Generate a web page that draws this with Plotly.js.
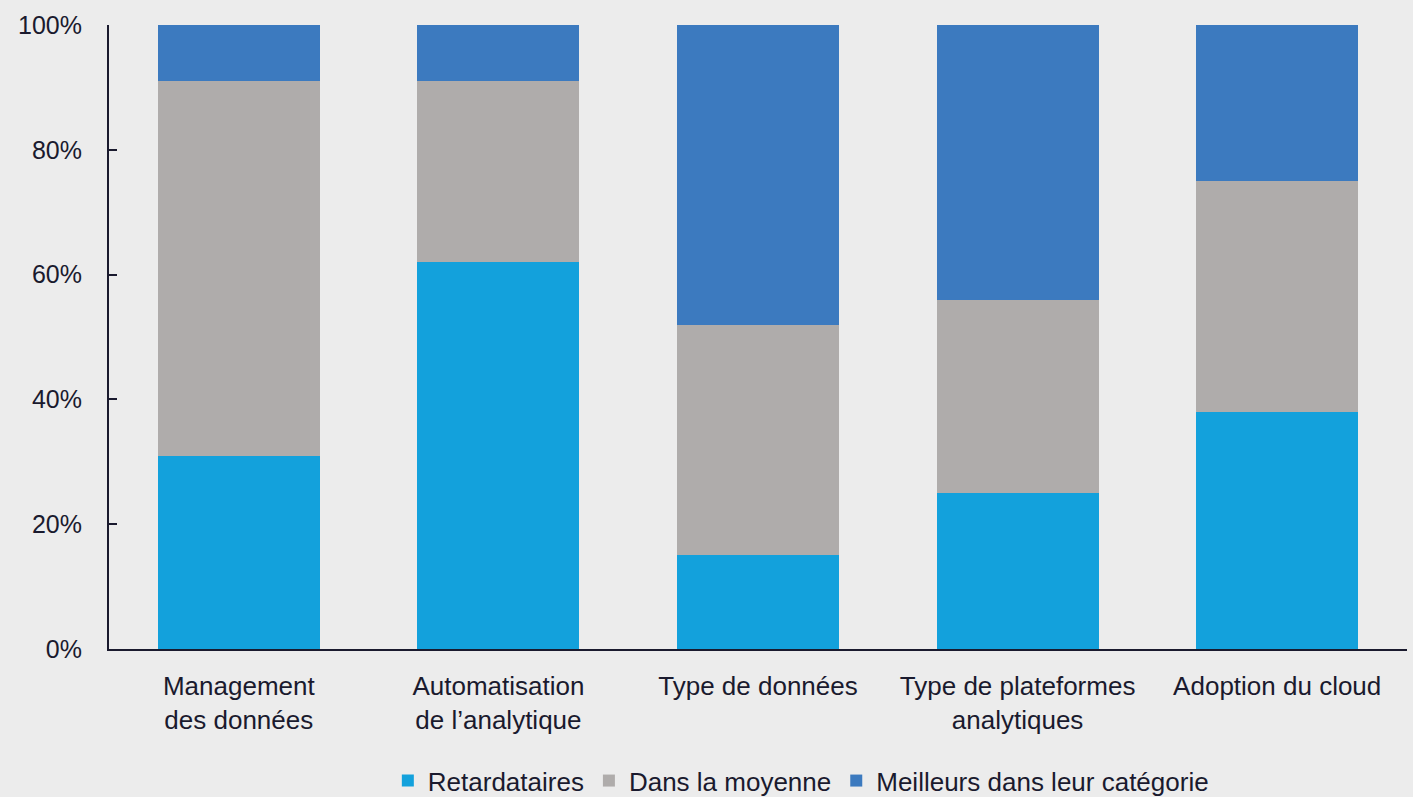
<!DOCTYPE html>
<html>
<head>
<meta charset="utf-8">
<script src="https://cdn.plot.ly/plotly-3.0.1.min.js"></script>
<style>
html,body{margin:0;padding:0;background:#ECECEC;}
#chart{width:1413px;height:797px;}
</style>
</head>
<body>
<div id="chart"></div>
<script>
const categories = ["Management<br>des données", "Automatisation<br>de l’analytique", "Type de données", "Type de plateformes<br>analytiques", "Adoption du cloud"];
const seriesNames = ["Retardataires", "Dans la moyenne", "Meilleurs dans leur catégorie"];
const retardataires = [31, 62, 15, 25, 38];
const moyenne = [60, 29, 37, 31, 37];
const meilleurs = [9, 9, 48, 44, 25];
const yTickVals = [0, 20, 40, 60, 80, 100];
const yTickText = ["0%", "20%", "40%", "60%", "80%", "100%"];

const FONT = "'Liberation Sans', Arial, sans-serif";
const colors = ["#13A1DC", "#AFACAB", "#3C7ABF"];
const values = [retardataires, moyenne, meilleurs];

const traces = values.map((v, i) => ({
  type: "bar",
  name: seriesNames[i],
  x: categories,
  y: v,
  marker: {color: colors[i], line: {width: 0}},
  hoverinfo: "none"
}));

const layout = {
  width: 1413, height: 797,
  barmode: "stack",
  bargap: 0.376,
  paper_bgcolor: "#ECECEC",
  plot_bgcolor: "#ECECEC",
  margin: {l: 109, r: 6, t: 25, b: 148, autoexpand: false},
  font: {family: FONT, color: "#1a1a2e", size: 25},
  xaxis: {
    showline: true, linecolor: "#1a1a2e", linewidth: 2,
    ticks: "", tickfont: {size: 26, family: FONT, color: "#1a1a2e"},
    ticklabelstandoff: 13,
    showgrid: false, zeroline: false, fixedrange: true, automargin: false
  },
  yaxis: {
    range: [0, 100], tickvals: yTickVals, ticktext: yTickText,
    showline: true, linecolor: "#1a1a2e", linewidth: 2,
    ticks: "inside", ticklen: 8, tickwidth: 2, tickcolor: "#1a1a2e",
    ticklabelstandoff: 20,
    tickfont: {size: 25, family: FONT, color: "#1a1a2e"},
    showgrid: false, zeroline: false, fixedrange: true, automargin: false
  },
  showlegend: true,
  legend: {
    orientation: "h", x: 0.533, xanchor: "center", y: -0.211, yanchor: "middle",
    font: {size: 26, family: FONT, color: "#1a1a2e"},
    traceorder: "normal", itemwidth: 30, bgcolor: "rgba(0,0,0,0)"
  }
};

Plotly.newPlot("chart", traces, layout, {displayModeBar: false, staticPlot: true});
</script>
</body>
</html>
